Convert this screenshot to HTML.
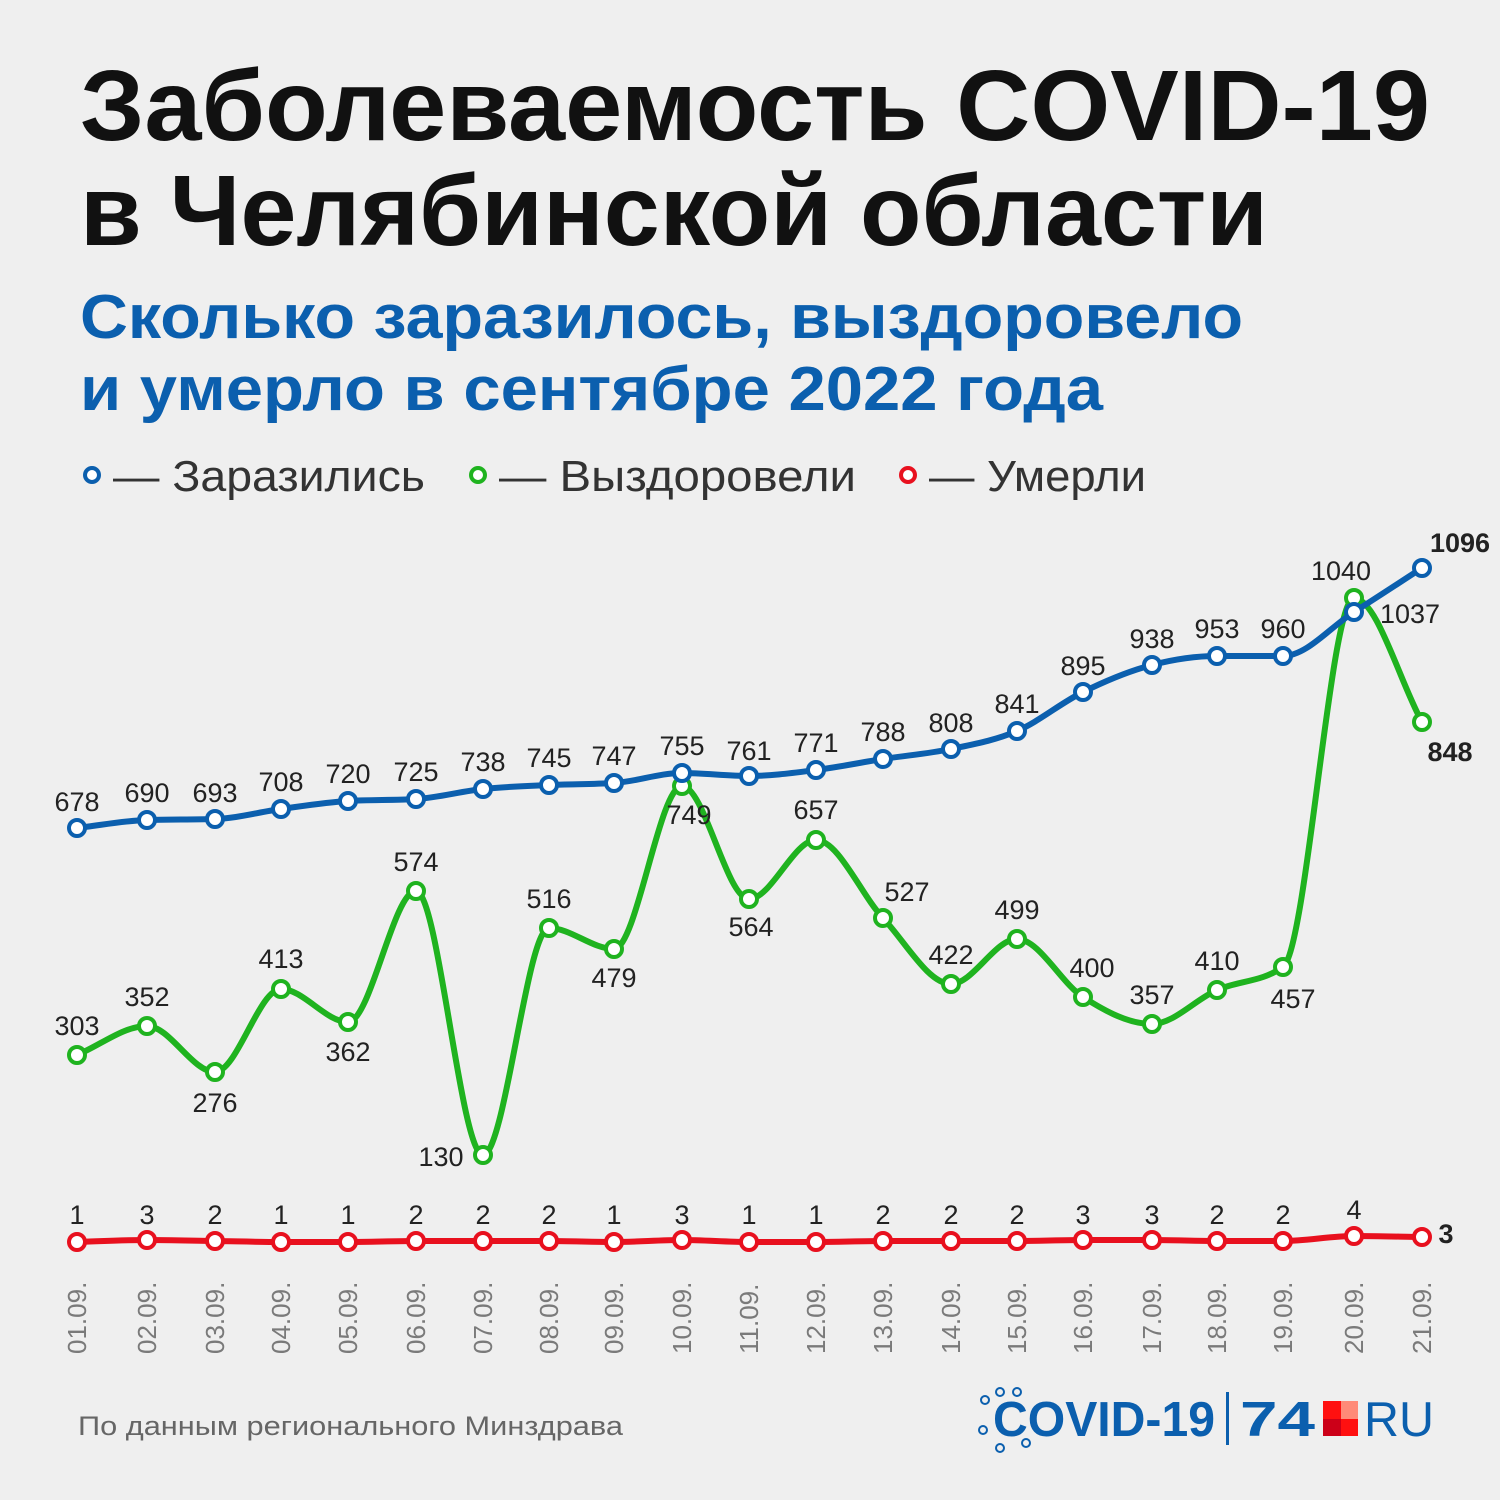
<!DOCTYPE html>
<html><head><meta charset="utf-8"><style>
html,body{margin:0;padding:0;background:#efefef;}
svg{display:block}
</style></head><body>
<svg id="s" width="1500" height="1500" viewBox="0 0 1500 1500" xmlns="http://www.w3.org/2000/svg" font-family="'Liberation Sans', sans-serif">
<rect width="1500" height="1500" fill="#efefef"/>
<text x="80" y="140" font-size="100" font-weight="bold" fill="#111" textLength="1350" lengthAdjust="spacingAndGlyphs">Заболеваемость COVID-19</text>
<text x="80" y="245" font-size="100" font-weight="bold" fill="#111" textLength="1188" lengthAdjust="spacingAndGlyphs">в Челябинской области</text>
<text x="80" y="338" font-size="62" font-weight="bold" fill="#0b5fae" textLength="1163" lengthAdjust="spacingAndGlyphs">Сколько заразилось, выздоровело</text>
<text x="80" y="410" font-size="62" font-weight="bold" fill="#0b5fae" textLength="1023" lengthAdjust="spacingAndGlyphs">и умерло в сентябре 2022 года</text>
<g font-size="44" fill="#333">
<circle cx="92" cy="475" r="7" fill="#fff" stroke="#0b5fae" stroke-width="4"/>
<text x="113" y="491" textLength="312" lengthAdjust="spacingAndGlyphs">— Заразились</text>
<circle cx="478" cy="475" r="7" fill="#fff" stroke="#1fb31f" stroke-width="4"/>
<text x="499" y="491" textLength="357" lengthAdjust="spacingAndGlyphs">— Выздоровели</text>
<circle cx="908" cy="475" r="7" fill="#fff" stroke="#e8101e" stroke-width="4"/>
<text x="929" y="491" textLength="217" lengthAdjust="spacingAndGlyphs">— Умерли</text>
</g>
<g id="chart"></g>
<text x="78" y="1435" font-size="27" fill="#666" textLength="545" lengthAdjust="spacingAndGlyphs">По данным регионального Минздрава</text>
<g fill="#0b5fae">
<text x="993" y="1436" font-size="49" font-weight="bold" textLength="222" lengthAdjust="spacingAndGlyphs">COVID-19</text>
<rect x="1226" y="1392" width="3" height="53"/>
<text x="1240" y="1436" font-size="49" font-weight="bold" textLength="75" lengthAdjust="spacingAndGlyphs">74</text>
<rect x="1323" y="1401" width="18" height="18" fill="#ff1010"/>
<rect x="1341" y="1401" width="17" height="18" fill="#ff8a78"/>
<rect x="1323" y="1419" width="18" height="17" fill="#cc0018"/>
<rect x="1341" y="1419" width="17" height="17" fill="#ff1010"/>
<text x="1364" y="1436" font-size="49" textLength="70" lengthAdjust="spacingAndGlyphs">RU</text>
<circle cx="985" cy="1400" r="4" fill="none" stroke="#0b5fae" stroke-width="2"/>
<circle cx="1000" cy="1392" r="4" fill="none" stroke="#0b5fae" stroke-width="2"/>
<circle cx="1017" cy="1392" r="4" fill="none" stroke="#0b5fae" stroke-width="2"/>
<circle cx="983" cy="1430" r="4" fill="none" stroke="#0b5fae" stroke-width="2"/>
<circle cx="1000" cy="1448" r="4" fill="none" stroke="#0b5fae" stroke-width="2"/>
<circle cx="1026" cy="1443" r="4" fill="none" stroke="#0b5fae" stroke-width="2"/>
</g>
</svg>
<script>
var X=[77,147,215,281,348,416,483,549,614,682,749,816,883,951,1017,1083,1152,1217,1283,1354,1422];
var B=[828,820,819,809,801,799,789,785,783,773,776,770,759,749,731,692,665,656,656,612,568];
var G=[1055,1026,1072,989,1022,891,1155,928,949,786,899,840,918,984,939,997,1024,990,967,598,722];
var R=[1242,1240,1241,1242,1242,1241,1241,1241,1242,1240,1242,1242,1241,1241,1241,1240,1240,1241,1241,1236,1237];
function path(Y){var n=X.length,s=[],m=[];
for(var i=0;i<n-1;i++)s.push((Y[i+1]-Y[i])/(X[i+1]-X[i]));
for(i=0;i<n;i++){if(i==0){m.push(s[0]);}else if(i==n-1){m.push(s[n-2]);}else{
var a=s[i-1],b=s[i];if(a*b<=0)m.push(0);else{var h0=X[i]-X[i-1],h1=X[i+1]-X[i];var p=(a*h1+b*h0)/(h0+h1);
m.push((Math.sign(a)+Math.sign(b))*Math.min(Math.abs(a),Math.abs(b),0.5*Math.abs(p)));}}}
var d="M"+X[0]+","+Y[0];
for(i=0;i<n-1;i++){var dx=(X[i+1]-X[i])/3;
d+=" C"+(X[i]+dx)+","+(Y[i]+dx*m[i])+" "+(X[i+1]-dx)+","+(Y[i+1]-dx*m[i+1])+" "+X[i+1]+","+Y[i+1];}
return d;}
var h="";
[[G,"#1fb31f"],[B,"#0b5fae"],[R,"#e8101e"]].forEach(function(a){h+='<path d="'+path(a[0])+'" fill="none" stroke="'+a[1]+'" stroke-width="6"/>';
for(var i=0;i<X.length;i++)h+='<circle cx="'+X[i]+'" cy="'+a[0][i]+'" r="8" fill="#fff" stroke="'+a[1]+'" stroke-width="4"/>';});
var bl=[[678,77,801],[690,147,792],[693,215,792],[708,281,781],[720,348,773],[725,416,771],[738,483,761],[745,549,757],[747,614,755],[755,682,745],[761,749,750],[771,816,742],[788,883,731],[808,951,722],[841,1017,703],[895,1083,665],[938,1152,638],[953,1217,628],[960,1283,628],[1040,1341,570],[1037,1410,613]];
var gl=[[303,77,1025],[352,147,996],[276,215,1102],[413,281,958],[362,348,1051],[574,416,861],[130,441,1156],[516,549,898],[479,614,977],[749,689,814],[564,751,926],[657,816,809],[527,907,891],[422,951,954],[499,1017,909],[400,1092,967],[357,1152,994],[410,1217,960],[457,1293,998]];
var rv=[1,3,2,1,1,2,2,2,1,3,1,1,2,2,2,3,3,2,2,4];
h+='<g font-size="27" fill="#222" text-anchor="middle">';
bl.concat(gl).forEach(function(l){h+='<text x="'+l[1]+'" y="'+(l[2]+10)+'">'+l[0]+'</text>';});
rv.forEach(function(v,i){h+='<text x="'+X[i]+'" y="'+(i==19?1219:1224)+'">'+v+'</text>';});
h+='</g><g font-size="27" font-weight="bold" fill="#222" text-anchor="middle"><text x="1460" y="552">1096</text><text x="1450" y="761">848</text><text x="1446" y="1243">3</text></g>';
h+='<g font-size="26" fill="#7a7a7a">';
for(var i=0;i<X.length;i++){var d=(i+1<10?"0":"")+(i+1)+".09.";h+='<text transform="translate('+(X[i]+9)+',1354) rotate(-90)">'+d+'</text>';}
h+='</g>';
document.getElementById("chart").innerHTML=h;
</script>
</body></html>
